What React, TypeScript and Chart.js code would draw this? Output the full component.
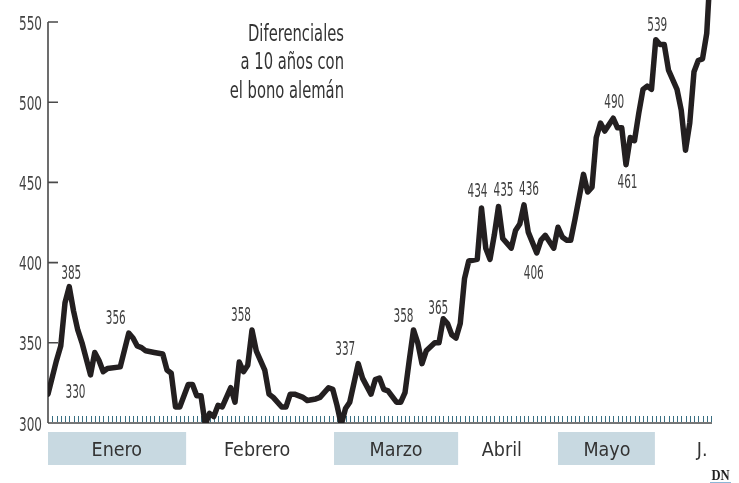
import React, { useEffect, useRef } from 'react';
import { Chart, registerables } from 'chart.js';
Chart.register(...registerables);

// Trading-day index (0 = early January) and spread in basis points
const days = [0, 2, 3, 4, 5, 6, 7, 8, 10, 11, 12, 13, 14, 17, 19, 20, 21, 22, 23, 25, 27, 28, 29, 30, 31, 33, 34, 35, 36, 37, 38, 39, 40, 41, 43, 44, 45, 46, 47, 48, 49, 51, 52, 53, 55, 56, 57, 58, 60, 61, 63, 64, 66, 67, 68, 69, 70, 71, 73, 74, 76, 77, 78, 79, 80, 82, 83, 84, 85, 86, 87, 88, 89, 91, 92, 93, 94, 95, 96, 97, 98, 99, 101, 102, 103, 104, 105, 106, 107, 109, 110, 111, 112, 113, 115, 116, 117, 119, 120, 121, 122, 123, 124, 126, 127, 128, 129, 130, 131, 133, 134, 135, 136, 137, 138, 139, 140, 141, 142, 143, 144, 145, 146, 148, 149, 150, 151, 152, 153, 154, 155, 156];
const spread = [318, 339, 348, 375, 385, 370, 358, 350, 330, 344, 339, 332, 334, 335, 356, 353, 348, 347, 345, 344, 343, 333, 331, 310, 310, 324, 324, 317, 317, 299, 306, 304, 311, 310, 322, 313, 338, 332, 336, 358, 345, 333, 318, 316, 310, 310, 318, 318, 316, 314, 315, 316, 322, 321, 311, 299, 309, 313, 337, 328, 318, 327, 328, 321, 320, 313, 313, 319, 339, 358, 350, 337, 345, 350, 350, 365, 362, 355, 353, 362, 390, 401, 402, 434, 409, 402, 417, 435, 415, 409, 420, 424, 436, 419, 406, 414, 417, 409, 422, 416, 414, 414, 427, 455, 444, 447, 478, 487, 482, 490, 484, 484, 461, 478, 476, 493, 508, 510, 508, 539, 536, 536, 520, 508, 495, 470, 487, 519, 526, 527, 543, 590];

const lastTickDay = 156;
const monthNames = ['Enero', 'Febrero', 'Marzo', 'Abril', 'Mayo', 'J.'];
const monthStarts = [0, 32.5, 67.3, 96.5, 120, 142.8];
const monthEnds = [32.5, 67.3, 96.5, 120, 142.8, 165];
const monthMidDays = [16.2, 49.2, 81.9, 106.8, 131.5, 153.9];
const monthShaded = [true, false, true, false, true, false];
const yTickValues = [300, 350, 400, 450, 500, 550];
const noteLines = ['Diferenciales', 'a 10 años con', 'el bono alemán'];
const labelDays = [5, 10, 19, 48, 73, 86, 93, 102, 106, 112, 115, 133, 136, 143];

// label placement offsets (px) relative to the labelled point: [dx, baseline dy]
const labelOffsets: [number, number][] = [
  [2, -8], [-15, 23.5], [-13, -9], [-11, -9], [-13, -9], [-10, -8], [-5, -5],
  [-4, -11], [5, -10], [5, -10], [-3, 26], [1, -10.5], [1.5, 23.5], [1.5, -9],
];

function pickFont(): string {
  const c = document.createElement('canvas').getContext('2d')!;
  const cands = ['Liberation Sans Narrow', 'DejaVu Sans Condensed', 'Roboto Condensed', 'Noto Sans Condensed', 'Open Sans Condensed', 'Arial Narrow'];
  const probe = 'Febrero 0123456789 Diferenciales';
  for (const f of cands) {
    for (const base of ['monospace', 'serif']) {
      c.font = `20px ${base}`;
      const a = c.measureText(probe).width;
      c.font = `20px "${f}", ${base}`;
      const b = c.measureText(probe).width;
      if (Math.abs(a - b) > 0.5) return f;
    }
  }
  return 'Roboto';
}

export default function App() {
  const ref = useRef<HTMLCanvasElement>(null);

  useEffect(() => {
    const canvas = ref.current!;
    const family = pickFont();
    const mctx = canvas.getContext('2d')!;
    const fitScale = (text: string, size: number, target: number) => {
      mctx.font = `${size}px "${family}"`;
      return Math.min(1.1, Math.max(0.5, target / mctx.measureText(text).width));
    };
    const kMonth = fitScale('Febrero', 20, 66);
    const kNote = fitScale('Diferenciales', 23, 96);
    const kNum = fitScale('385', 19, 20);
    const kTick = fitScale('550', 20, 23);

    const drawText = (ctx: CanvasRenderingContext2D, text: string, x: number, y: number, font: string, align: CanvasTextAlign, color: string, sx: number) => {
      ctx.save();
      ctx.font = font;
      ctx.fillStyle = color;
      ctx.textBaseline = 'alphabetic';
      ctx.textAlign = align;
      ctx.translate(x, y);
      ctx.scale(sx, 1);
      ctx.fillText(text, 0, 0);
      ctx.restore();
    };
    const f = (size: number) => `${size}px "${family}"`;

    const decor = {
      id: 'decor',
      beforeDatasetsDraw(chart: any) {
        const { ctx, chartArea, scales } = chart;
        const x = scales.x, y = scales.y;
        const { left, bottom } = chartArea;
        ctx.save();
        // daily ticks
        ctx.beginPath();
        ctx.strokeStyle = '#3a6f82';
        ctx.lineWidth = 1;
        for (let d = 1; d <= lastTickDay; d++) {
          const px = Math.round(x.getPixelForValue(d)) + 0.5;
          ctx.moveTo(px, bottom - 7);
          ctx.lineTo(px, bottom - 1);
        }
        ctx.stroke();
        // axes
        ctx.strokeStyle = '#4a4a4a';
        ctx.lineWidth = 1.6;
        ctx.beginPath();
        ctx.moveTo(left, bottom);
        ctx.lineTo(x.getPixelForValue(lastTickDay) + 1, bottom);
        ctx.moveTo(left, y.getPixelForValue(yTickValues[yTickValues.length - 1]));
        ctx.lineTo(left, bottom);
        for (const t of y.ticks) {
          const py = y.getPixelForValue(t.value);
          ctx.moveTo(left, py);
          ctx.lineTo(left + 10, py);
        }
        ctx.stroke();
        // y tick labels
        for (const t of y.ticks) {
          drawText(ctx, String(t.value), left - 6, y.getPixelForValue(t.value) + 7.5, f(20), 'right', '#444', kTick);
        }
        ctx.restore();
      },
      afterDraw(chart: any) {
        const { ctx, chartArea, scales } = chart;
        const x = scales.x, y = scales.y;
        const { left, bottom } = chartArea;
        ctx.save();
        // month bands
        for (let i = 0; i < monthNames.length; i++) {
          const x0 = Math.max(left, x.getPixelForValue(monthStarts[i]));
          const x1 = x.getPixelForValue(monthEnds[i]);
          if (monthShaded[i]) {
            ctx.fillStyle = '#c8d9e1';
            ctx.fillRect(x0, bottom + 9, x1 - x0, 33);
          }
          drawText(ctx, monthNames[i], x.getPixelForValue(monthMidDays[i]), bottom + 33, f(20), 'center', '#333', kMonth);
        }
        // value labels
        labelDays.forEach((d, i) => {
          const idx = days.indexOf(d);
          const v = spread[idx];
          const px = x.getPixelForValue(d) + labelOffsets[i][0];
          const py = y.getPixelForValue(v) + labelOffsets[i][1];
          drawText(ctx, String(v), px, py, f(19), 'center', '#3f3f3f', kNum);
        });
        // note
        noteLines.forEach((t, i) => {
          drawText(ctx, t, 344, 40.7 + i * 28.5, f(23), 'right', '#333', kNote);
        });
        // DN logo
        drawText(ctx, 'DN', 720.5, 480, 'bold 14px "Liberation Serif", serif', 'center', '#222', 0.9);
        ctx.strokeStyle = '#8db6d6';
        ctx.lineWidth = 1;
        ctx.beginPath();
        ctx.moveTo(710, 482.5);
        ctx.lineTo(731, 482.5);
        ctx.stroke();
        ctx.restore();
      },
    };

    const chart = new Chart(canvas, {
      type: 'line',
      data: {
        datasets: [{
          data: days.map((d, i) => ({ x: d, y: spread[i] })),
          borderColor: '#231f20',
          borderWidth: 5.5,
          pointRadius: 0,
          tension: 0,
          borderJoinStyle: 'round',
          borderCapStyle: 'round',
          fill: false,
        }],
      },
      options: {
        animation: false,
        responsive: false,
        devicePixelRatio: 1,
        layout: { padding: { left: 0, top: 0, right: 23.75, bottom: 60 } },
        plugins: { legend: { display: false }, tooltip: { enabled: false } },
        scales: {
          x: { type: 'linear', min: 0, max: 157, display: false },
          y: {
            min: 300,
            max: 300 + 423 / 1.604,
            afterFit(s: any) { s.width = 48; s.paddingTop = 0; s.paddingBottom = 0; },
            afterBuildTicks(s: any) { s.ticks = yTickValues.map((v) => ({ value: v })); },
            grid: { display: false, drawTicks: false },
            border: { display: false },
            ticks: { display: false },
          },
        },
      },
      plugins: [decor],
    } as any);
    return () => chart.destroy();
  }, []);

  return (
    <div style={{ position: 'fixed', left: 0, top: 0, width: 739, height: 483, background: '#fff' }}>
      <canvas ref={ref} width={739} height={483} style={{ display: 'block', width: 739, height: 483 }} />
    </div>
  );
}
